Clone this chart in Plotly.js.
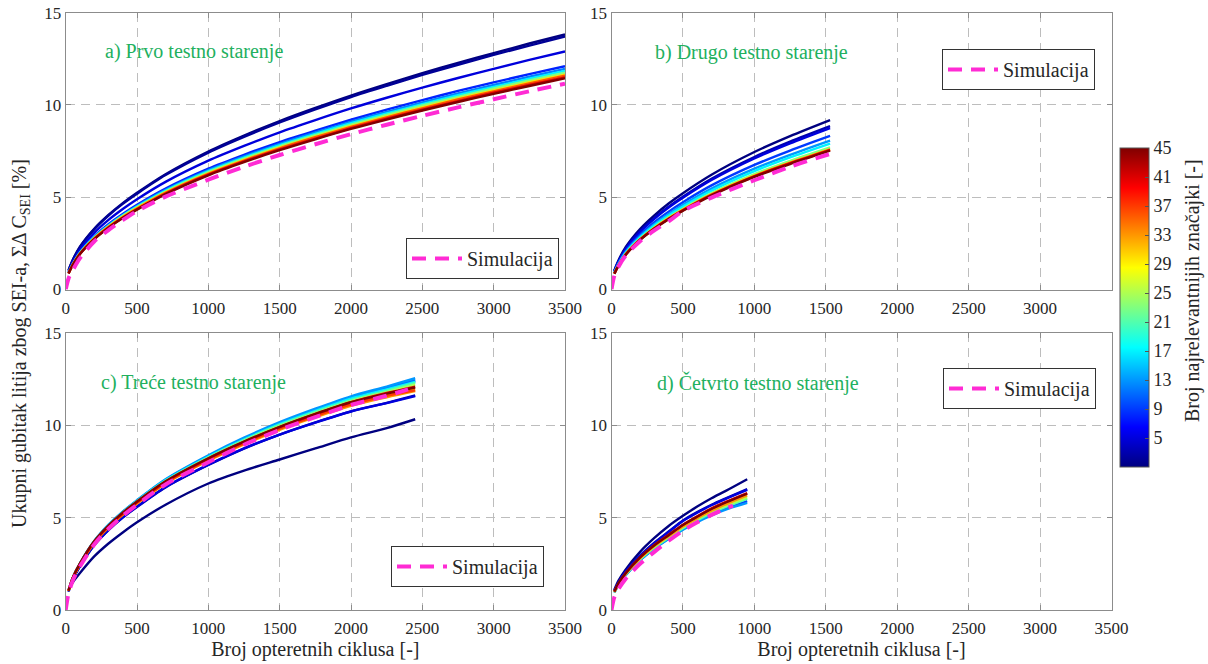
<!DOCTYPE html>
<html><head><meta charset="utf-8">
<script src="https://cdn.plot.ly/plotly-3.0.1.min.js"></script>
<style>html,body{margin:0;padding:0;background:#fff}#chart{width:1208px;height:664px}</style>
</head><body><div id="chart"></div>
<script>
// ---------- DATA ----------
// Panel a) Prvo testno starenje
const aX = [20,50,100,200,300,400,500,700,1000,1250,1500,1750,2000,2250,2500,2750,3000,3250,3500];
const aF = [1,2,5,8,12,17,23,30,36,41,45];
const aY = [
  [1.05,1.61,2.32,3.29,4.04,4.68,5.24,6.25,7.48,8.34,9.13,9.84,10.51,11.13,11.72,12.28,12.81,13.33,13.82],
  [1.04,1.60,2.30,3.26,4.01,4.64,5.19,6.20,7.42,8.27,9.05,9.76,10.43,11.04,11.63,12.18,12.71,13.22,13.71],
  [0.98,1.50,2.16,3.07,3.77,4.36,4.89,5.83,6.98,7.78,8.52,9.18,9.81,10.39,10.94,11.46,11.96,12.44,12.90],
  [0.92,1.41,2.03,2.88,3.54,4.09,4.59,5.47,6.55,7.30,7.99,8.61,9.20,9.75,10.26,10.76,11.22,11.67,12.10],
  [0.91,1.39,2.01,2.85,3.49,4.04,4.53,5.40,6.47,7.21,7.89,8.51,9.09,9.63,10.14,10.62,11.08,11.53,11.96],
  [0.90,1.38,1.99,2.82,3.46,4.01,4.49,5.35,6.41,7.15,7.82,8.43,9.01,9.54,10.04,10.53,10.98,11.42,11.85],
  [0.89,1.37,1.97,2.80,3.43,3.98,4.45,5.31,6.36,7.09,7.76,8.36,8.94,9.46,9.97,10.44,10.89,11.33,11.75],
  [0.88,1.35,1.95,2.77,3.40,3.94,4.41,5.26,6.30,7.02,7.69,8.28,8.85,9.37,9.87,10.34,10.79,11.23,11.64],
  [0.88,1.35,1.94,2.76,3.39,3.92,4.39,5.24,6.27,6.99,7.65,8.25,8.81,9.33,9.82,10.30,10.74,11.17,11.59],
  [0.87,1.34,1.93,2.74,3.36,3.89,4.35,5.19,6.22,6.94,7.59,8.18,8.74,9.26,9.75,10.21,10.66,11.08,11.49],
  [0.87,1.33,1.92,2.72,3.34,3.87,4.33,5.17,6.19,6.90,7.55,8.14,8.70,9.21,9.70,10.16,10.60,11.03,11.44]
];
const aSimX = [0,20,50,100,200,300,400,500,700,1000,1250,1500,1750,2000,2250,2500,2750,3000,3250,3500];
const aSimY = [0,0.6,1.05,1.7,2.6,3.22,3.76,4.25,5.03,5.95,6.65,7.29,7.87,8.42,8.93,9.41,9.87,10.31,10.74,11.15];

// Panel b) Drugo testno starenje
const bX = [20,50,100,200,300,400,500,700,1000,1250,1530];
const bF = [1,3,5,9,13,17,23,30,37,42,45];
const bY = [
  [1.04,1.60,2.31,3.28,4.02,4.66,5.22,6.22,7.45,8.31,9.18],
  [1.01,1.54,2.23,3.16,3.88,4.49,5.03,6.00,7.18,8.01,8.85],
  [0.99,1.53,2.20,3.12,3.83,4.44,4.97,5.93,7.10,7.92,8.75],
  [0.95,1.45,2.09,2.97,3.65,4.22,4.73,5.64,6.75,7.53,8.32],
  [0.92,1.41,2.03,2.88,3.54,4.09,4.59,5.47,6.55,7.30,8.07],
  [0.90,1.38,1.99,2.82,3.47,4.01,4.49,5.36,6.42,7.16,7.91],
  [0.88,1.34,1.94,2.75,3.38,3.91,4.38,5.22,6.25,6.97,7.70],
  [0.87,1.33,1.92,2.72,3.34,3.86,4.33,5.16,6.18,6.89,7.61],
  [0.86,1.32,1.91,2.71,3.32,3.84,4.31,5.14,6.15,6.86,7.58],
  [0.86,1.32,1.90,2.70,3.31,3.83,4.29,5.12,6.13,6.83,7.55],
  [0.85,1.31,1.89,2.68,3.29,3.81,4.27,5.09,6.10,6.80,7.52]
];
const bSimX = [0,20,50,100,200,300,400,500,700,1000,1250,1530];
const bSimY = [0,0.75,1.25,1.85,2.62,3.2,3.7,4.25,4.98,5.92,6.65,7.35];

// Panel c) Treće testno starenje
const cX = [20,50,100,200,300,400,500,700,1000,1250,1500,1750,2000,2250,2450];
const cF = [1,3,5,9,11,13,17,21,25,29,33,37,41,45];
const cY = [
  [1.1,1.5,2.0,2.9,3.6,4.2,4.75,5.7,6.85,7.55,8.15,8.75,9.35,9.85,10.33],
  [1.0,1.65,2.36,3.5,4.32,5.0,5.58,6.64,7.85,8.74,9.5,10.16,10.76,11.22,11.62],
  [1.0,1.66,2.38,3.52,4.34,5.02,5.6,6.66,7.87,8.75,9.5,10.15,10.75,11.2,11.58],
  [1.04,1.74,2.5,3.7,4.57,5.28,5.9,7.02,8.3,9.24,10.07,10.8,11.46,11.98,12.4],
  [1.05,1.75,2.51,3.72,4.59,5.3,5.92,7.05,8.33,9.28,10.11,10.84,11.51,12.03,12.45],
  [1.05,1.76,2.53,3.74,4.62,5.33,5.95,7.08,8.38,9.33,10.17,10.9,11.57,12.1,12.55],
  [1.04,1.75,2.51,3.71,4.58,5.29,5.9,7.02,8.3,9.23,10.06,10.78,11.44,11.94,12.35],
  [1.04,1.74,2.51,3.71,4.57,5.27,5.89,7.0,8.27,9.2,10.02,10.73,11.37,11.88,12.3],
  [1.04,1.74,2.5,3.69,4.55,5.25,5.86,6.97,8.23,9.15,9.96,10.66,11.3,11.8,12.2],
  [1.03,1.72,2.47,3.65,4.49,5.19,5.79,6.88,8.13,9.03,9.83,10.52,11.14,11.62,11.95],
  [1.03,1.72,2.46,3.63,4.47,5.16,5.76,6.84,8.08,8.97,9.76,10.44,11.06,11.52,11.85],
  [1.04,1.73,2.48,3.66,4.5,5.2,5.8,6.88,8.12,9.02,9.82,10.5,11.12,11.6,11.9],
  [1.05,1.75,2.5,3.7,4.55,5.25,5.85,6.95,8.2,9.1,9.9,10.6,11.25,11.75,12.1],
  [1.05,1.75,2.52,3.72,4.57,5.27,5.88,6.97,8.22,9.12,9.92,10.62,11.25,11.72,12.05]
];
const cSimX = [0,20,50,100,200,300,400,500,700,1000,1250,1500,1750,2000,2250,2400];
const cSimY = [0,0.9,1.6,2.35,3.55,4.4,5.1,5.7,6.8,8.0,8.95,9.75,10.45,11.1,11.6,11.95];

// Panel d) Četvrto testno starenje
const dX = [20,50,100,200,300,400,500,600,700,800,950];
const dF = [1,3,5,9,13,21,25,33,41,45];
const dY = [
  [1.1,1.6,2.2,3.15,3.9,4.55,5.1,5.6,6.05,6.45,7.08],
  [1.05,1.5,2.1,2.95,3.65,4.25,4.85,5.3,5.7,6.05,6.55],
  [1.05,1.5,2.08,2.93,3.62,4.22,4.82,5.27,5.67,6.02,6.5],
  [0.95,1.38,1.9,2.7,3.33,3.87,4.38,4.8,5.17,5.5,5.9],
  [0.95,1.38,1.9,2.7,3.32,3.85,4.35,4.76,5.12,5.44,5.8],
  [0.96,1.4,1.93,2.74,3.38,3.92,4.43,4.86,5.25,5.58,6.02],
  [0.97,1.4,1.95,2.77,3.42,3.96,4.48,4.92,5.32,5.65,6.1],
  [0.98,1.42,1.97,2.8,3.46,4.0,4.52,4.97,5.38,5.72,6.2],
  [1.0,1.45,2.0,2.85,3.52,4.08,4.62,5.08,5.5,5.85,6.33],
  [1.0,1.45,2.0,2.85,3.5,4.05,4.6,5.05,5.47,5.82,6.3]
];
const dSimX = [0,20,50,100,200,300,400,500,600,700,800,850];
const dSimY = [0,0.7,1.15,1.7,2.5,3.15,3.75,4.3,4.75,5.15,5.5,5.65];

const panelLabels = ['a) Prvo testno starenje','b) Drugo testno starenje','c) Treće testno starenje','d) Četvrto testno starenje'];
const simName = 'Simulacija';
const xTickVals = [0,500,1000,1500,2000,2500,3000,3500];
const xTickValsB = [0,500,1000,1500,2000,2500,3000];
const yTickVals = [0,5,10,15];
const cbTickVals = [5,9,13,17,21,25,29,33,37,41,45];
const featMin = 1, featMax = 45;
const xTitle = 'Broj opteretnih ciklusa [-]';
const yTitle = 'Ukupni gubitak litija zbog SEI-a, ΣΔ C<sub>SEI</sub> [%]';
const cbTitle = 'Broj najrelevantnijih značajki [-]';

// ---------- STYLE ----------
const FONT = 'Liberation Serif';
const SIM_COLOR = '#ff2bd4';
const GREEN = '#22b05e';
const W = 1208, H = 664;
const px = v => v / W, py = v => 1 - v / H;

function jet(f){
  const t = (f - featMin) / (featMax - featMin);
  const cl = v => Math.max(0, Math.min(1, v));
  const r = cl(1.5 - Math.abs(4*t - 3)), g = cl(1.5 - Math.abs(4*t - 2)), b = cl(1.5 - Math.abs(4*t - 1));
  return `rgb(${Math.round(r*255)},${Math.round(g*255)},${Math.round(b*255)})`;
}
const jetScale = [[0,'rgb(0,0,128)'],[0.125,'rgb(0,0,255)'],[0.375,'rgb(0,255,255)'],[0.625,'rgb(255,255,0)'],[0.875,'rgb(255,0,0)'],[1,'rgb(128,0,0)']];

const panels = [
  {x:aX,f:aF,y:aY,sx:aSimX,sy:aSimY,xa:'x',ya:'y',leg:'legend'},
  {x:bX,f:bF,y:bY,sx:bSimX,sy:bSimY,xa:'x2',ya:'y2',leg:'legend2'},
  {x:cX,f:cF,y:cY,sx:cSimX,sy:cSimY,xa:'x3',ya:'y3',leg:'legend3'},
  {x:dX,f:dF,y:dY,sx:dSimX,sy:dSimY,xa:'x4',ya:'y4',leg:'legend4'}
];

const traces = [];
panels.forEach(p => {
  p.f.forEach((f, i) => {
    traces.push({type:'scatter', mode:'lines', x:p.x, y:p.y[i], xaxis:p.xa, yaxis:p.ya,
      line:{color:jet(f), width:2.4, shape:'spline', smoothing:0.8},
      showlegend:false, hoverinfo:'skip', name:'N='+f});
  });
  traces.push({type:'scatter', mode:'lines', x:p.sx, y:p.sy, xaxis:p.xa, yaxis:p.ya,
    line:{color:SIM_COLOR, width:4, dash:'14px,9px', shape:'spline', smoothing:0.8},
    name:simName, legend:p.leg, showlegend:true, hoverinfo:'skip'});
});
// colorbar carrier
traces.push({type:'scatter', mode:'markers', x:[0], y:[-5], xaxis:'x', yaxis:'y',
  marker:{color:[featMin], cmin:featMin, cmax:featMax, colorscale:jetScale, size:1, opacity:0, showscale:true,
    colorbar:{x:px(1120), xanchor:'left', y:py(307.5), yanchor:'middle', len:319, lenmode:'pixels',
      thickness:29, thicknessmode:'pixels', xpad:0, ypad:0, outlinewidth:1, outlinecolor:'#555',
      tickvals:cbTickVals, ticks:'inside', ticklen:4, tickcolor:'#555',
      tickfont:{family:FONT, size:18, color:'#262626'}}},
  showlegend:false, hoverinfo:'skip'});

const xL = [px(65.7), px(565)], xR = [px(611.5), px(1111.5)];
const yT = [py(289.5), py(12.7)], yB = [py(610), py(333)];
function xaxis(dom, anchor, tv){
  return {domain:dom, anchor:anchor, range:[0,3500], tickvals:tv, ticktext:tv.map(String),
    showgrid:true, gridcolor:'#bdbdbd', griddash:'9px,6px', gridwidth:1,
    showline:true, linecolor:'#8c8c8c', linewidth:1, mirror:'ticks',
    ticks:'inside', ticklen:5, tickcolor:'#8c8c8c', zeroline:false, ticklabelstandoff:3,
    tickfont:{family:FONT, size:17, color:'#262626'}, fixedrange:true};
}
function yaxis(dom, anchor){
  return {domain:dom, anchor:anchor, range:[0,15], tickvals:yTickVals,
    showgrid:true, gridcolor:'#bdbdbd', griddash:'9px,6px', gridwidth:1,
    showline:true, linecolor:'#8c8c8c', linewidth:1, mirror:'ticks',
    ticks:'inside', ticklen:5, tickcolor:'#8c8c8c', zeroline:false,
    tickfont:{family:FONT, size:17, color:'#262626'}, fixedrange:true};
}
const xa3 = xaxis(xL,'y3',xTickVals); xa3.title = {text:xTitle, font:{family:FONT,size:20,color:'#262626'}, standoff:4};
const xa4 = xaxis(xR,'y4',xTickVals); xa4.title = {text:xTitle, font:{family:FONT,size:20,color:'#262626'}, standoff:4};

function legend(rx, ty){
  return {x:px(rx), y:py(ty), xanchor:'right', yanchor:'top', xref:'paper', yref:'paper',
    bgcolor:'#fff', bordercolor:'#333', borderwidth:1, itemwidth:50,
    font:{family:FONT, size:20, color:'#262626'}};
}

const ann = [
  {text:panelLabels[0], x:px(194), y:py(52)},
  {text:panelLabels[1], x:px(751), y:py(53)},
  {text:panelLabels[2], x:px(194), y:py(383)},
  {text:panelLabels[3], x:px(758), y:py(383)}
].map(a => Object.assign(a, {xref:'paper', yref:'paper', showarrow:false, xanchor:'center', yanchor:'middle',
  font:{family:FONT, size:20, color:GREEN}}));
ann.push({text:yTitle, x:px(20), y:py(344), xref:'paper', yref:'paper', showarrow:false, textangle:-90,
  xanchor:'center', yanchor:'middle', font:{family:FONT, size:20, color:'#262626'}});
ann.push({text:cbTitle, x:px(1192), y:py(291), xref:'paper', yref:'paper', showarrow:false, textangle:-90,
  xanchor:'center', yanchor:'middle', font:{family:FONT, size:20, color:'#262626'}});

const layout = {
  width:W, height:H, margin:{l:0,r:0,t:0,b:0}, paper_bgcolor:'#fff', plot_bgcolor:'#fff',
  font:{family:FONT, color:'#262626'},
  xaxis:xaxis(xL,'y',xTickVals), yaxis:yaxis(yT,'x'),
  xaxis2:xaxis(xR,'y2',xTickValsB), yaxis2:yaxis(yT,'x2'),
  xaxis3:xa3, yaxis3:yaxis(yB,'x3'),
  xaxis4:xa4, yaxis4:yaxis(yB,'x4'),
  legend:legend(559,238), legend2:legend(1095,49), legend3:legend(544,546), legend4:legend(1096,368),
  annotations:ann, showlegend:true, hovermode:false
};
Plotly.newPlot('chart', traces, layout, {displayModeBar:false, staticPlot:true});
</script></body></html>
